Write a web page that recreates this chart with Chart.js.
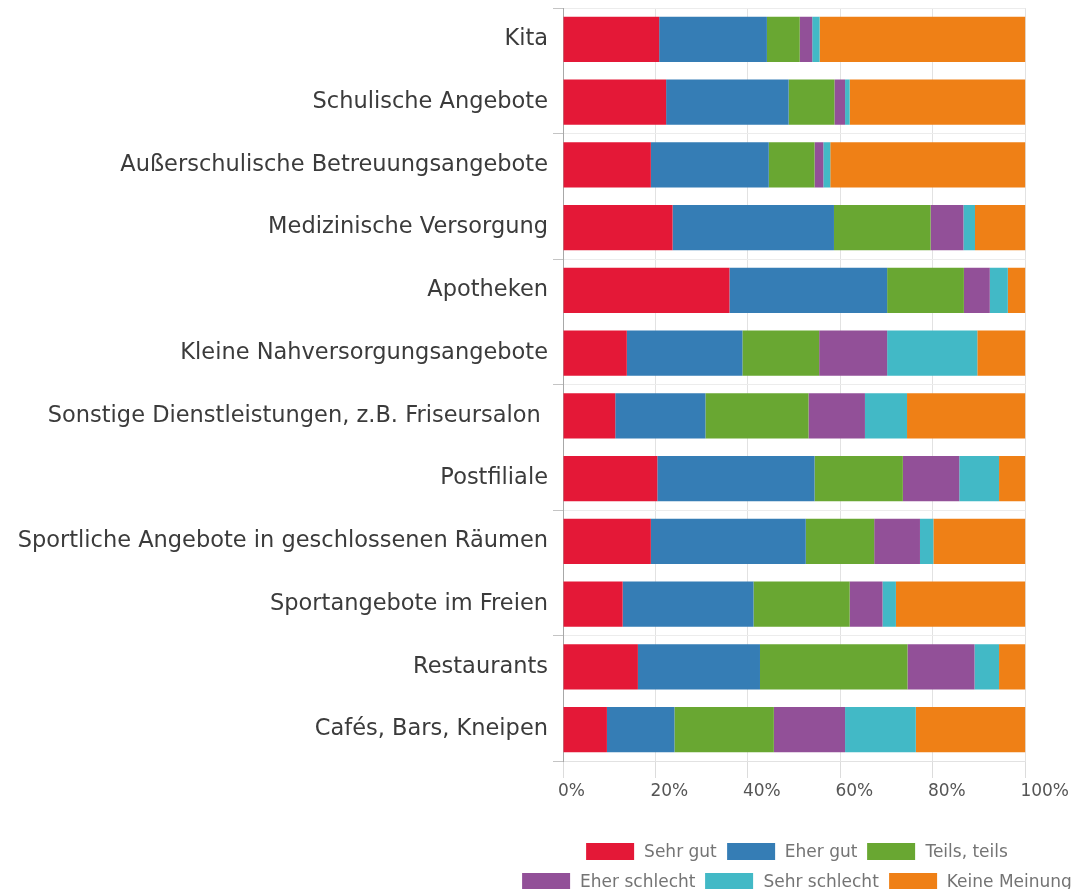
<!DOCTYPE html>
<html>
<head>
<meta charset="utf-8">
<script src="https://cdn.jsdelivr.net/npm/chart.js@4"></script>
<style>
  body { margin: 0; background: #fff; }
  #wrap { position: relative; width: 1077px; height: 889px; overflow: hidden; }
  .legendRow { position: absolute; left: 797px; transform: translateX(-50%); white-space: nowrap;
               font-family: "DejaVu Sans", sans-serif; font-size: 17px; color: #747474; display: flex; align-items: center; }
  .legendItem { display: flex; align-items: center; margin: 0 5px; }
  .legendBox { width: 48px; height: 17px; margin-right: 10px; }
</style>
</head>
<body>
<div id="wrap">
  <canvas id="myChart" width="1077" height="889"></canvas>
  <div class="legendRow" id="legendRow1" style="top:841px"></div>
  <div class="legendRow" id="legendRow2" style="top:871px"></div>
</div>
<script>
const categories = ["Kita", "Schulische Angebote", "Außerschulische Betreuungsangebote", "Medizinische Versorgung",
  "Apotheken", "Kleine Nahversorgungsangebote", "Sonstige Dienstleistungen, z.B. Friseursalon ", "Postfiliale",
  "Sportliche Angebote in geschlossenen Räumen", "Sportangebote im Freien", "Restaurants", "Cafés, Bars, Kneipen"];

const seriesNames = ["Sehr gut", "Eher gut", "Teils, teils", "Eher schlecht", "Sehr schlecht", "Keine Meinung"];
const seriesColors = ["#E41837", "#357DB5", "#69A732", "#925098", "#42B9C6", "#EF8016"];

// percentages
const sehrGut      = [20.8, 22.3, 19.0, 23.7, 36.0, 13.8, 11.3, 20.4, 19.0, 12.9, 16.2, 9.5];
const eherGut      = [23.3, 26.5, 25.5, 34.9, 34.1, 25.0, 19.5, 34.0, 33.5, 28.3, 26.4, 14.6];
const teilsTeils   = [7.1, 9.9, 9.9, 20.9, 16.6, 16.6, 22.3, 19.1, 14.8, 20.8, 31.9, 21.5];
const eherSchlecht = [2.7, 2.3, 1.9, 7.1, 5.6, 14.7, 12.2, 12.2, 9.9, 7.1, 14.5, 15.4];
const sehrSchlecht = [1.6, 1.0, 1.5, 2.5, 3.9, 19.5, 9.1, 8.6, 2.9, 2.9, 5.3, 15.3];
const keineMeinung = [44.5, 38.0, 42.2, 10.9, 3.8, 10.4, 25.6, 5.7, 19.9, 28.0, 5.7, 23.7];

const xTicks = [0, 20, 40, 60, 80, 100];

const allSeries = [sehrGut, eherGut, teilsTeils, eherSchlecht, sehrSchlecht, keineMeinung];

const datasets = allSeries.map(function (vals, i) {
  return {
    label: seriesNames[i],
    data: vals,
    backgroundColor: seriesColors[i],
    borderWidth: 0,
    barPercentage: 0.72,
    categoryPercentage: 1
  };
});

// every other category boundary gets a line
function everyOther(col) {
  return function (ctx) {
    return (ctx.index === undefined || ctx.index % 2 === 0) ? col : 'rgba(0,0,0,0)';
  };
}

const ctx = document.getElementById('myChart').getContext('2d');
const myChart = new Chart(ctx, {
  type: 'bar',
  data: { labels: categories, datasets: datasets },
  options: {
    indexAxis: 'y',
    responsive: false,
    animation: false,
    devicePixelRatio: 1,
    layout: { padding: { top: 8, right: 50, bottom: 78, left: 0 } },
    plugins: {
      legend: { display: false },
      tooltip: { enabled: false }
    },
    scales: {
      x: {
        stacked: true,
        min: 0,
        max: 100,
        afterBuildTicks: function (scale) {
          scale.ticks = xTicks.map(function (v) { return { value: v }; });
        },
        afterFit: function (scale) { scale.height = 50; },
        grid: { color: '#e2e2e2', tickLength: 17, tickColor: '#dcdcdc' },
        border: { color: '#e2e2e2' },
        ticks: {
          align: 'start',
          labelOffset: -5,
          padding: 3,
          color: '#555',
          font: { family: 'DejaVu Sans', size: 17 },
          callback: function (v) { return v + '%'; }
        }
      },
      y: {
        stacked: true,
        afterFit: function (scale) {
          scale.width = 563;
          scale.paddingTop = 0;
          scale.paddingBottom = 0;
        },
        grid: { color: everyOther('#ececec'), tickColor: everyOther('#c4c4c4'), tickLength: 10 },
        border: { color: '#a8a8a8', width: 1 },
        ticks: {
          padding: 5,
          color: '#3b3b3b',
          font: { family: 'DejaVu Sans', size: 22.5 }
        }
      }
    }
  }
});

// legend in two rows like the original
function buildLegend(rowId, from, to) {
  const row = document.getElementById(rowId);
  for (let i = from; i < to; i++) {
    const item = document.createElement('div');
    item.className = 'legendItem';
    const box = document.createElement('span');
    box.className = 'legendBox';
    box.style.background = seriesColors[i];
    const txt = document.createElement('span');
    txt.textContent = seriesNames[i];
    item.appendChild(box);
    item.appendChild(txt);
    row.appendChild(item);
  }
}
buildLegend('legendRow1', 0, 3);
buildLegend('legendRow2', 3, 6);
</script>
</body>
</html>
